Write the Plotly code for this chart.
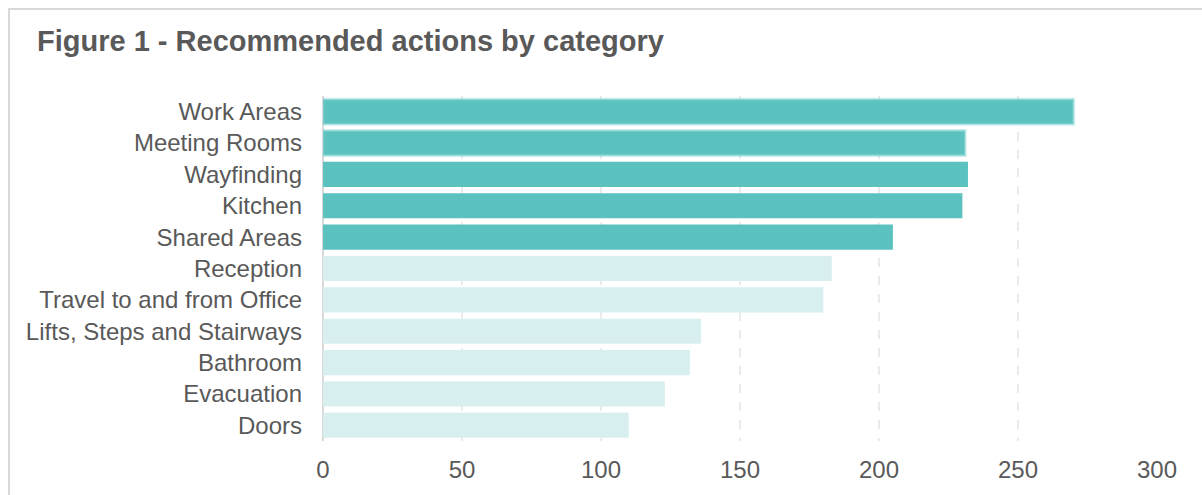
import plotly.graph_objects as go

# Categories listed top to bottom
categories = [
    "Work Areas", "Meeting Rooms", "Wayfinding", "Kitchen", "Shared Areas",
    "Reception", "Travel to and from Office", "Lifts, Steps and Stairways",
    "Bathroom", "Evacuation", "Doors",
]
actions = [270, 231, 232, 230, 205, 183, 180, 136, 132, 123, 110]
top_group = [True, True, True, True, True, False, False, False, False, False, False]
highlighted = [True, True, False, False, False, False, False, False, False, False, False]

x_ticks = [0, 50, 100, 150, 200, 250, 300]

DARK = "#5BC2BF"
LIGHT = "#D7F0EF"
TEXT = "#595959"
FONT = "Liberation Sans, Arial, sans-serif"

W, H = 1202, 495
L, R, T, B = 323, 45, 96, 54

fig = go.Figure(
    go.Bar(
        x=actions,
        y=categories,
        orientation="h",
        marker=dict(
            color=[DARK if t else LIGHT for t in top_group],
            line=dict(
                color="rgba(140,215,212,0.45)",
                width=[3 if h else 0 for h in highlighted],
            ),
        ),
        width=0.8,
        hoverinfo="x+y",
    )
)

# Light frame around the whole chart (runs off the right and bottom edges)
pw, ph = W - L - R, H - T - B
fig.add_shape(
    type="rect", xref="paper", yref="paper",
    x0=(9 - L) / pw, x1=1.2,
    y0=-0.4, y1=(H - B - 9) / ph,
    line=dict(color="#D9D9D9", width=2),
    fillcolor="rgba(0,0,0,0)", layer="below",
)

fig.update_layout(
    width=W, height=H,
    margin=dict(l=L, r=R, t=T, b=B),
    paper_bgcolor="white", plot_bgcolor="white",
    showlegend=False,
    font=dict(family=FONT, color=TEXT, size=24),
    title=dict(
        text="Figure 1 - Recommended actions by category",
        font=dict(family=FONT, size=29, color=TEXT, weight="bold"),
        xref="container", yref="container",
        x=37 / W, xanchor="left",
        y=1 - 41 / H, yanchor="middle",
    ),
    xaxis=dict(
        range=[0, 300],
        tickvals=x_ticks,
        showgrid=True, gridcolor="#EBEBEB", gridwidth=2, griddash="dash",
        zeroline=True, zerolinecolor="#D9D9D9", zerolinewidth=2,
        showline=False, ticks="",
        ticklabelstandoff=12,
        tickfont=dict(size=24, color=TEXT),
        fixedrange=True,
    ),
    yaxis=dict(
        autorange="reversed",
        showgrid=False, showline=False, zeroline=False, ticks="",
        ticklabelstandoff=20,
        tickfont=dict(size=24, color=TEXT),
        fixedrange=True,
    ),
)

fig.write_html("out.html")
